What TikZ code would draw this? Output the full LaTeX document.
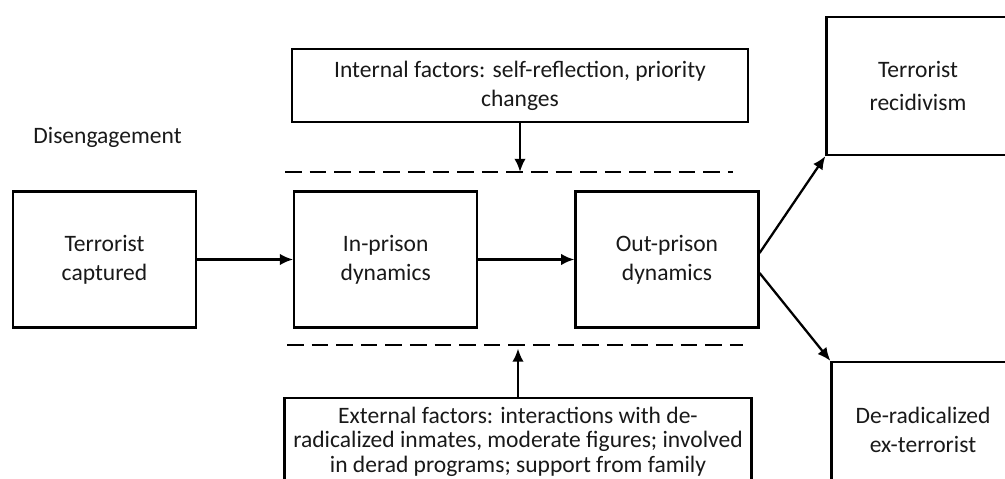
\documentclass[tikz,border=0pt]{standalone}
\usepackage{fontspec}
\setmainfont{Carlito}
\usetikzlibrary{positioning,arrows.meta}

\newcommand{\stageBoxWidth}{3.66cm}
\newcommand{\stageBoxHeight}{2.72cm}
\tikzset{
  dr base/.style={font=\fontsize{13.4}{16.5}\selectfont, inner sep=4pt, text=black!90},
  dr arrow/.style={line width=1.3pt,->,>={Latex[length=7.5pt,width=6.5pt]}},
  dr stage/.style={draw, line width=1.3pt, rectangle,
    minimum width=\stageBoxWidth, minimum height=\stageBoxHeight,
    align=center, fill=white},
  dr factor/.style={draw, line width=1.3pt, rectangle,
    minimum width=9.12cm, align=center, fill=white},
  dr split/.style={line width=1.3pt, dash pattern=on 9.5pt off 4.5pt},
}

\begin{document}
\begin{tikzpicture}[
    x=0.02cm, y=-0.02cm,
    dr base,
    stage/.style={dr stage},
    arrow/.style={dr arrow}
]
\useasboundingbox (0,0) rectangle (1005,479);
\clip (0,0) rectangle (1005,479);

\node (phase) [anchor=west] at (26,137) {Disengagement};

\node (captured)  [stage] at (104.5,259.5) {Terrorist\\captured};
\node (inprison)  [stage, right=1.92cm of captured] {In-prison\\dynamics};
\node (outprison) [stage, right=1.92cm of inprison] {Out-prison\\dynamics};

\node (recidivism) [stage, minimum height=2.76cm] at (918,86) {Terrorist\\[2pt]recidivism};
\node (deradical)  [stage] at (923,430) {De-radicalized\\ex-terrorist};

\node (internal) [dr factor, minimum height=1.46cm] at (520,85.5)
  {Internal factors: self-reflection, priority\\changes};
\node (external) [dr factor, minimum width=9.04cm, anchor=north,
    font=\fontsize{13.4}{13.9}\selectfont, inner sep=5pt] at (518,397)
  {External factors: interactions with de-\\radicalized inmates, moderate figures; involved\\in derad programs; support from family\\ };

% dashed limits of the prison stage
\coordinate (upper left)  at (285,172);
\coordinate (upper right) at (733,172);
\coordinate (lower left)  at (287,345);
\coordinate (lower right) at (743,345);
\draw [dr split] (upper left) -- (upper right);
\draw [dr split] (lower left) -- (lower right);

\draw [arrow] (captured) -- (inprison);
\draw [arrow] (inprison) -- (outprison);
\draw [arrow] (internal.south) -- (internal.south |- upper left);
\draw [arrow] (external.north) -- ([yshift=-2pt]external.north |- lower left);
\draw [arrow] ([yshift=0.13cm]outprison.east)  -- (recidivism.south west);
\draw [arrow] ([yshift=-0.27cm]outprison.east) -- (deradical.north west);
\end{tikzpicture}
\end{document}
